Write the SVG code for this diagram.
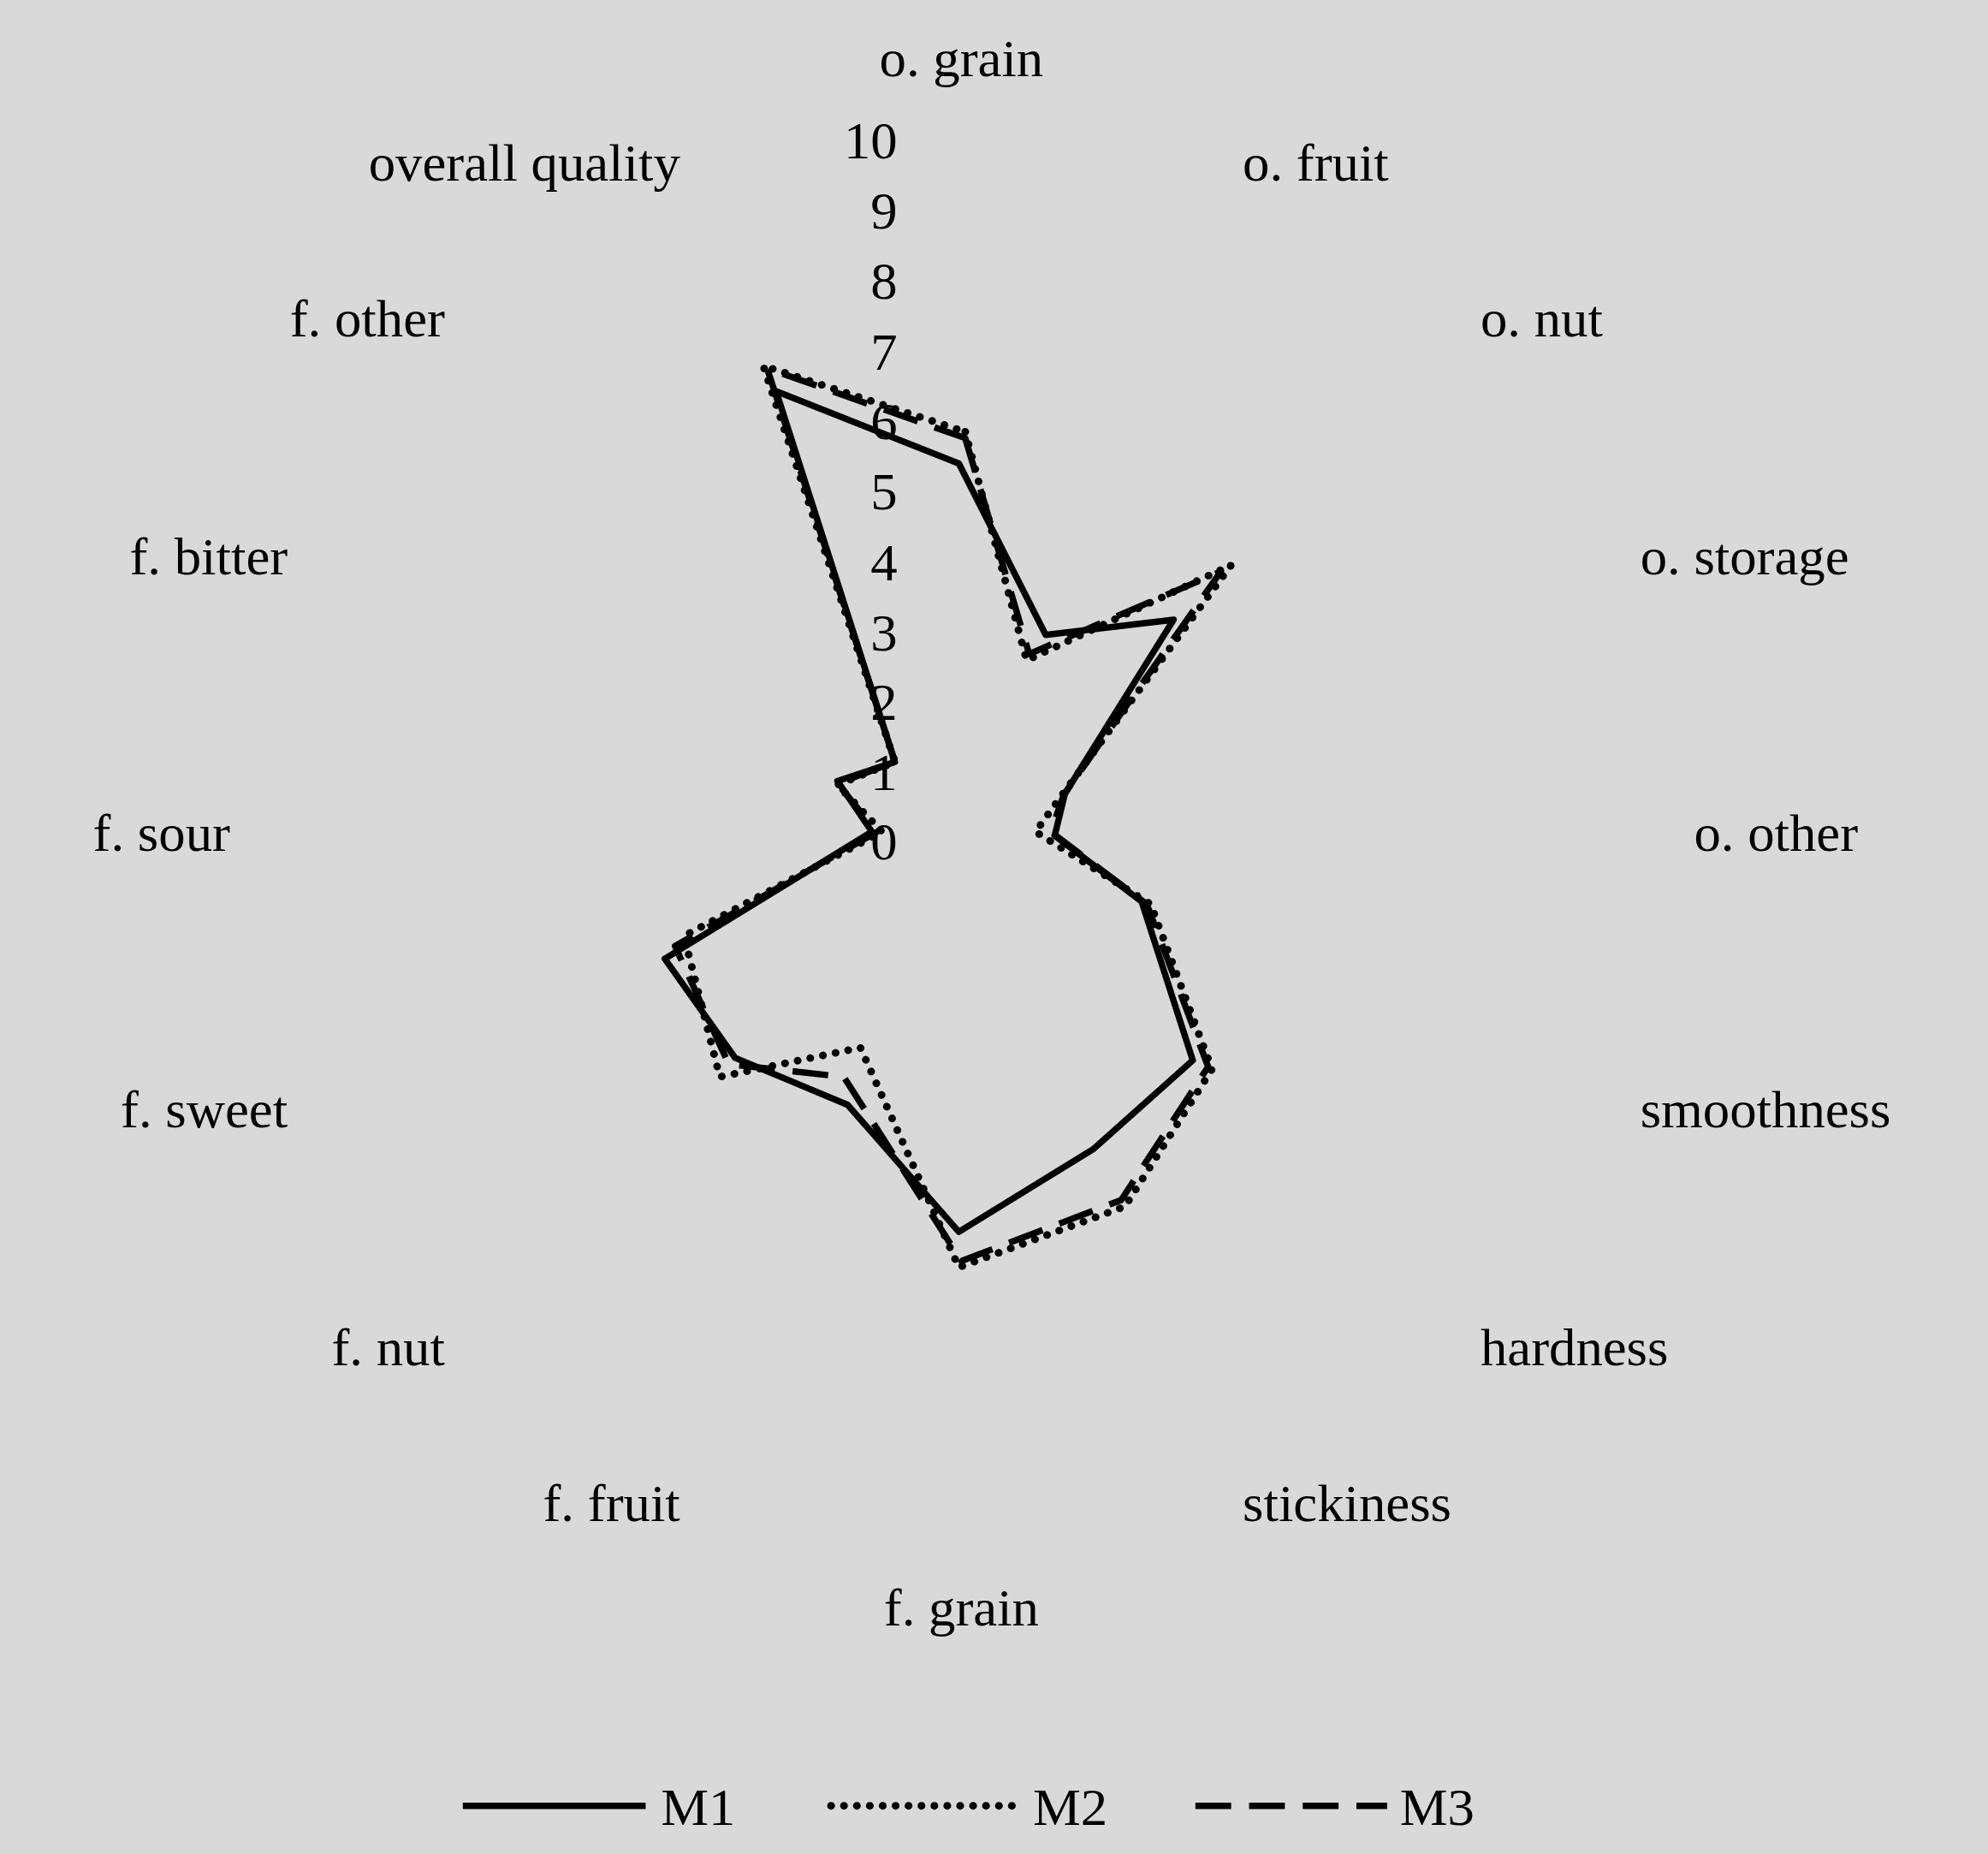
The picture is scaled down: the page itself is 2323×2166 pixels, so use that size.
<svg xmlns="http://www.w3.org/2000/svg" xmlns:xlink="http://www.w3.org/1999/xlink" width="2323" height="2166" viewBox="0 0 2323 2166">
<style>
.grid{fill:none;stroke:#d9d9d9;stroke-width:4;vector-effect:non-scaling-stroke}
.lbl{font-family:"Liberation Serif",serif;font-size:42px;fill:#000}
.s{fill:none;stroke:#000;stroke-width:5;stroke-linejoin:round}
.m2{stroke-dasharray:0.1 10;stroke-linecap:round;stroke-width:6}
.m3{stroke-dasharray:28 14}
</style>
<defs>
<polygon id="ring" points="0,-1 .3827,-.9239 .7071,-.7071 .9239,-.3827 1,0 .9239,.3827 .7071,.7071 .3827,.9239 0,1 -.3827,.9239 -.7071,.7071 -.9239,.3827 -1,0 -.9239,-.3827 -.7071,-.7071 -.3827,-.9239"/>
</defs>
<rect width="2323" height="2166" fill="#fff"/>
<g transform="scale(1.4939,1.4836)">
<g id="grid">
<use xlink:href="#ring" class="grid" transform="translate(755,658) scale(55.3)"/>
<use xlink:href="#ring" class="grid" transform="translate(755,658) scale(110.6)"/>
<use xlink:href="#ring" class="grid" transform="translate(755,658) scale(165.9)"/>
<use xlink:href="#ring" class="grid" transform="translate(755,658) scale(221.2)"/>
<use xlink:href="#ring" class="grid" transform="translate(755,658) scale(276.5)"/>
<use xlink:href="#ring" class="grid" transform="translate(755,658) scale(331.8)"/>
<use xlink:href="#ring" class="grid" transform="translate(755,658) scale(387.1)"/>
<use xlink:href="#ring" class="grid" transform="translate(755,658) scale(442.4)"/>
<use xlink:href="#ring" class="grid" transform="translate(755,658) scale(497.7)"/>
<use xlink:href="#ring" class="grid" transform="translate(755,658) scale(553)"/>
</g>
<g id="ticks" class="lbl" text-anchor="end">
<text x="702" y="125">10</text><text x="702" y="180">9</text><text x="702" y="235">8</text><text x="702" y="291">7</text><text x="702" y="346">6</text><text x="702" y="401">5</text><text x="702" y="457">4</text><text x="702" y="512">3</text><text x="702" y="567">2</text><text x="702" y="622">1</text><text x="702" y="677">0</text>
</g>
<g id="axislabels" class="lbl">
<text x="752" y="60" text-anchor="middle">o. grain</text>
<text x="972" y="142">o. fruit</text>
<text x="1158" y="265">o. nut</text>
<text x="1283" y="452">o. storage</text>
<text x="1325" y="670">o. other</text>
<text x="1283" y="888">smoothness</text>
<text x="1158" y="1075">hardness</text>
<text x="972" y="1198">stickiness</text>
<text x="752" y="1280" text-anchor="middle">f. grain</text>
<text x="532" y="1198" text-anchor="end">f. fruit</text>
<text x="348" y="1075" text-anchor="end">f. nut</text>
<text x="225" y="888" text-anchor="end">f. sweet</text>
<text x="180" y="670" text-anchor="end">f. sour</text>
<text x="225" y="452" text-anchor="end">f. bitter</text>
<text x="348" y="265" text-anchor="end">f. other</text>
<text x="532" y="142" text-anchor="end">overall quality</text>
</g>
<g id="series">
<polygon id="M3" class="s m3" points="755,345 805,515 955,450 832,626 822,655 897,712 945,840 877,945 752,993 660,848 570,838 528,745 686,655 655,617 700,600 600,290"/>
<polygon id="M2" class="s m2" points="755,340 803,520 963,445 830,627 810,655 900,712 948,842 880,950 750,998 673,825 563,848 535,737 690,655 655,618 700,600 597,288"/>
<polygon id="M1" class="s" points="750,365 818,500 918,488 833,625 825,658 893,710 933,835 855,905 750,970 663,870 575,833 520,755 682,655 655,615 700,600 607,308"/>
</g>
<g id="legend">
<line class="s" x1="362" y1="1422" x2="505" y2="1422"/>
<text class="lbl" x="517" y="1437">M1</text>
<line class="s m2" x1="650" y1="1422" x2="795" y2="1422"/>
<text class="lbl" x="808" y="1437">M2</text>
<line class="s m3" x1="935" y1="1422" x2="1085" y2="1422"/>
<text class="lbl" x="1095" y="1437">M3</text>
</g>
</g>
</svg>
